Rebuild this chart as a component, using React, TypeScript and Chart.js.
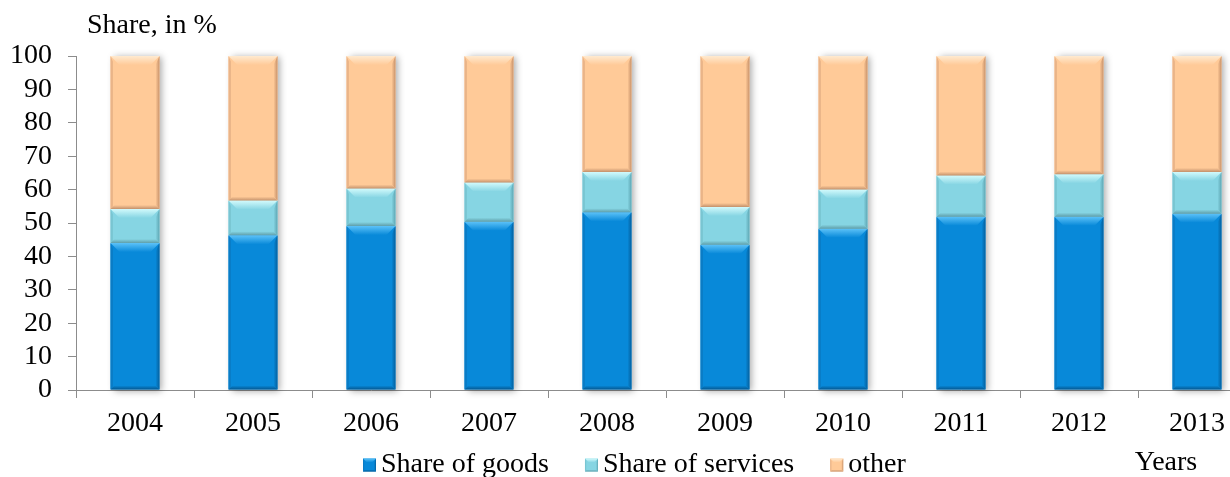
import React, { useEffect, useRef } from "react";
import { Chart, registerables } from "chart.js";

Chart.register(...registerables);

const years = ["2004", "2005", "2006", "2007", "2008", "2009", "2010", "2011", "2012", "2013"];
const goods = [44.0, 46.3, 49.1, 50.4, 53.2, 43.5, 48.3, 51.9, 51.9, 52.8];
const services = [10.2, 10.4, 11.2, 11.7, 12.1, 11.3, 11.7, 12.3, 12.7, 12.5];
const other = [45.8, 43.3, 39.7, 37.9, 34.7, 45.2, 40.0, 35.8, 35.4, 34.7];
const seriesNames = ["Share of goods", "Share of services", "other"];
const yTicks = [0, 10, 20, 30, 40, 50, 60, 70, 80, 90, 100];

const FONT_FAMILY = "'Liberation Serif', 'Times New Roman', serif";
const FONT_SIZE = 28;
const AXIS_COLOR = "#8c8c8c";

type Bevel = { face: string; top: string; left: string; right: string; bottom: string };

const palette: Bevel[] = [
  { face: "#0889d9", top: "#5cc2f8", left: "#0a7cc6", right: "#04609e", bottom: "#045790" },
  { face: "#86d5e3", top: "#d2fafc", left: "#79c5d2", right: "#5ea6b3", bottom: "#5f9ea9" },
  { face: "#ffca98", top: "#ffead0", left: "#eab488", right: "#c8926a", bottom: "#c3916c" },
];

function drawBevelBox(
  ctx: CanvasRenderingContext2D,
  l: number,
  t: number,
  r: number,
  b: number,
  c: Bevel,
  tb: number,
  sb: number
) {
  const h = b - t;
  const top = Math.min(tb, h / 2);
  const side = Math.min(sb, (r - l) / 4);
  const bot = Math.min(sb, h / 3);
  ctx.save();
  // top bevel
  const g = ctx.createLinearGradient(0, t, 0, t + top);
  g.addColorStop(0, c.top);
  g.addColorStop(1, c.face);
  ctx.fillStyle = g;
  ctx.beginPath();
  ctx.moveTo(l, t);
  ctx.lineTo(r, t);
  ctx.lineTo(r - top, t + top);
  ctx.lineTo(l + top, t + top);
  ctx.closePath();
  ctx.fill();
  // left edge
  ctx.fillStyle = c.left;
  ctx.beginPath();
  ctx.moveTo(l, t);
  ctx.lineTo(l + side * 0.6, t + top * 0.6);
  ctx.lineTo(l + side * 0.6, b - bot * 0.6);
  ctx.lineTo(l, b);
  ctx.closePath();
  ctx.fill();
  // right edge
  const gr = ctx.createLinearGradient(r - side, 0, r, 0);
  gr.addColorStop(0, c.face);
  gr.addColorStop(1, c.right);
  ctx.fillStyle = gr;
  ctx.beginPath();
  ctx.moveTo(r, t);
  ctx.lineTo(r - side, t + top);
  ctx.lineTo(r - side, b - bot);
  ctx.lineTo(r, b);
  ctx.closePath();
  ctx.fill();
  // bottom edge
  const gb = ctx.createLinearGradient(0, b - bot, 0, b);
  gb.addColorStop(0, c.face);
  gb.addColorStop(1, c.bottom);
  ctx.fillStyle = gb;
  ctx.beginPath();
  ctx.moveTo(l, b);
  ctx.lineTo(r, b);
  ctx.lineTo(r - bot, b - bot);
  ctx.lineTo(l + bot, b - bot);
  ctx.closePath();
  ctx.fill();
  ctx.restore();
}

const bevelPlugin = {
  id: "bevelBars",
  beforeDatasetsDraw(chart: any) {
    // soft shadow behind each full stack
    const ctx: CanvasRenderingContext2D = chart.ctx;
    const first = chart.getDatasetMeta(0);
    const last = chart.getDatasetMeta(chart.data.datasets.length - 1);
    ctx.save();
    ctx.shadowColor = "rgba(0,0,0,0.35)";
    ctx.shadowBlur = 7;
    ctx.shadowOffsetX = 3;
    ctx.shadowOffsetY = 1;
    ctx.fillStyle = "#ffffff";
    first.data.forEach((el: any, i: number) => {
      const p = el.getProps(["x", "base", "width"], true);
      const topEl = last.data[i].getProps(["y"], true);
      ctx.fillRect(p.x - p.width / 2, topEl.y, p.width, p.base - topEl.y);
    });
    ctx.restore();
  },
  afterDatasetsDraw(chart: any) {
    const ctx: CanvasRenderingContext2D = chart.ctx;
    chart.data.datasets.forEach((_: any, di: number) => {
      const meta = chart.getDatasetMeta(di);
      meta.data.forEach((el: any) => {
        const p = el.getProps(["x", "y", "base", "width"], true);
        const l = p.x - p.width / 2;
        const r = p.x + p.width / 2;
        const t = Math.min(p.y, p.base);
        const b = Math.max(p.y, p.base);
        drawBevelBox(ctx, l, t, r, b, palette[di], 9, 4);
      });
    });
  },
};

const textPlugin = {
  id: "chartTexts",
  afterDraw(chart: any) {
    const ctx: CanvasRenderingContext2D = chart.ctx;
    ctx.save();
    ctx.font = `${FONT_SIZE}px ${FONT_FAMILY}`;
    ctx.fillStyle = "#000";
    ctx.textBaseline = "middle";
    // axis captions
    ctx.textAlign = "left";
    ctx.fillText("Share, in %", 87, 26);
    ctx.textAlign = "center";
    ctx.fillText("Years", 1166, 463);
    // legend
    ctx.textAlign = "left";
    let x = 363;
    const yMid = 465;
    const box = 13;
    chart.data.datasets.forEach((ds: any, i: number) => {
      ctx.fillStyle = palette[i].face;
      ctx.fillRect(x, yMid - box / 2, box, box);
      drawBevelBox(ctx, x, yMid - box / 2, x + box, yMid + box / 2, palette[i], 4, 2);
      ctx.fillStyle = "#000";
      ctx.fillText(ds.label, x + box + 5, yMid);
      x += box + 5 + ctx.measureText(ds.label).width + 36;
    });
    ctx.restore();
  },
};

export default function App() {
  const canvasRef = useRef<HTMLCanvasElement | null>(null);

  useEffect(() => {
    if (!canvasRef.current) return;
    const font = { family: FONT_FAMILY, size: FONT_SIZE };
    const chart = new Chart(canvasRef.current, {
      type: "bar",
      data: {
        labels: years,
        datasets: [
          { label: seriesNames[0], data: goods, backgroundColor: palette[0].face },
          { label: seriesNames[1], data: services, backgroundColor: palette[1].face },
          { label: seriesNames[2], data: other, backgroundColor: palette[2].face },
        ],
      },
      options: {
        responsive: false,
        animation: false,
        devicePixelRatio: 1,
        layout: { padding: { left: 0, right: 14, top: 56, bottom: 0 } },
        datasets: { bar: { barPercentage: 0.415, categoryPercentage: 1 } },
        plugins: { legend: { display: false }, tooltip: { enabled: false } },
        scales: {
          x: {
            stacked: true,
            grid: { offset: true, drawOnChartArea: false, tickLength: 8, color: AXIS_COLOR },
            border: { color: AXIS_COLOR },
            ticks: { font, color: "#000", padding: 9, maxRotation: 0, autoSkip: false },
            afterFit: (s: any) => {
              s.height = 87;
            },
          },
          y: {
            stacked: true,
            min: 0,
            max: 100,
            afterBuildTicks: (s: any) => {
              s.ticks = yTicks.map((v) => ({ value: v }));
            },
            grid: { drawOnChartArea: false, tickLength: 8, color: AXIS_COLOR },
            border: { color: AXIS_COLOR },
            ticks: { font, color: "#000", padding: 16, autoSkip: false },
            afterFit: (s: any) => {
              s.width = 76;
            },
          },
        },
      },
      plugins: [bevelPlugin, textPlugin],
    });
    return () => chart.destroy();
  }, []);

  return (
    <div
      style={{
        position: "fixed",
        left: 0,
        top: 0,
        width: 1230,
        height: 477,
        overflow: "hidden",
        background: "#fff",
      }}
    >
      <canvas ref={canvasRef} width={1270} height={477} style={{ width: 1270, height: 477, display: "block" }} />
    </div>
  );
}
